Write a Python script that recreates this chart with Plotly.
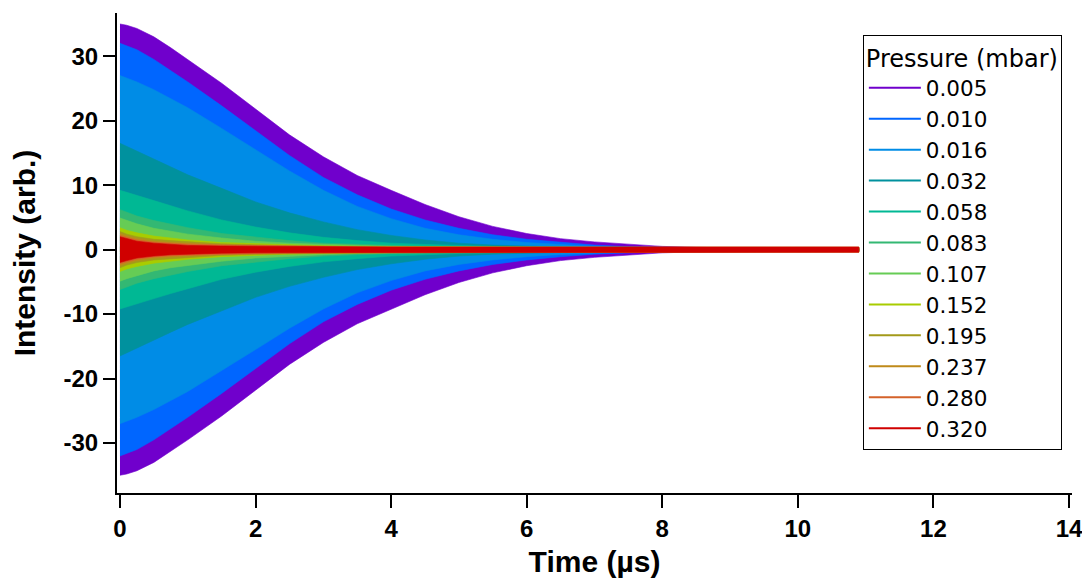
import plotly.graph_objects as go

time_us = [0, 0.1, 0.25, 0.5, 0.75, 1, 1.5, 2, 2.5, 3, 3.5, 4, 4.5, 5, 5.5,
           6, 6.5, 7, 7.5, 8, 8.5, 9, 9.5, 10, 10.9]

pressures = ["0.005", "0.010", "0.016", "0.032", "0.058", "0.083",
             "0.107", "0.152", "0.195", "0.237", "0.280", "0.320"]

colors = ["#7000CC", "#0066FF", "#008CE6", "#00919E", "#00B894", "#33B873",
          "#66CC55", "#A8CC00", "#A39A1A", "#BF8A1A", "#D4622A", "#D00000"]

# Envelope amplitude (arb.) of each trace
env_0005 = [35.0, 34.8, 34.3, 33.0, 31.3, 29.5, 25.8, 21.8, 17.8, 14.4, 11.5, 9.2, 7.0,
            5.1, 3.6, 2.5, 1.7, 1.2, 0.8, 0.5, 0.35, 0.25, 0.2, 0.15, 0.15]
env_0010 = [32.0, 31.6, 31.0, 29.5, 27.8, 26.0, 22.3, 18.5, 14.6, 11.2, 8.5, 6.3, 4.6,
            3.3, 2.3, 1.6, 1.1, 0.7, 0.45, 0.3, 0.25, 0.2, 0.15, 0.15, 0.15]
env_0016 = [27.0, 26.6, 26.0, 24.8, 23.4, 22.0, 18.8, 15.5, 12.2, 9.2, 6.7, 4.8, 3.3,
            2.3, 1.6, 1.1, 0.75, 0.5, 0.35, 0.25, 0.2, 0.15, 0.15, 0.15, 0.15]
env_0032 = [16.5, 16.0, 15.3, 14.0, 12.8, 11.6, 9.5, 7.4, 5.7, 4.3, 3.1, 2.2, 1.5,
            1.0, 0.7, 0.5, 0.4, 0.3, 0.25, 0.2, 0.2, 0.15, 0.15, 0.15, 0.15]
env_0058 = [9.2, 8.9, 8.4, 7.6, 6.8, 6.0, 4.6, 3.5, 2.6, 1.9, 1.4, 1.0, 0.8,
            0.6, 0.5, 0.4, 0.35, 0.3, 0.25, 0.2, 0.2, 0.2, 0.2, 0.2, 0.2]
env_0083 = [6.2, 5.8, 5.2, 4.5, 3.9, 3.4, 2.5, 1.9, 1.4, 1.0, 0.8, 0.6, 0.5,
            0.45, 0.4, 0.35, 0.3, 0.3, 0.25, 0.25, 0.2, 0.2, 0.2, 0.2, 0.2]
env_0107 = [4.9, 4.5, 4.0, 3.3, 2.8, 2.4, 1.8, 1.3, 1.0, 0.8, 0.6, 0.5, 0.45,
            0.4, 0.35, 0.35, 0.3, 0.3, 0.25, 0.25, 0.25, 0.25, 0.25, 0.25, 0.25]
env_0152 = [3.4, 3.0, 2.6, 2.1, 1.8, 1.5, 1.1, 0.9, 0.7, 0.6, 0.5, 0.45, 0.4,
            0.4, 0.35, 0.35, 0.35, 0.3, 0.3, 0.3, 0.3, 0.3, 0.3, 0.3, 0.3]
env_0195 = [2.8, 2.4, 2.0, 1.6, 1.4, 1.2, 0.9, 0.75, 0.6, 0.55, 0.5, 0.45, 0.4,
            0.4, 0.4, 0.35, 0.35, 0.35, 0.35, 0.35, 0.35, 0.35, 0.35, 0.35, 0.35]
env_0237 = [2.5, 2.1, 1.7, 1.3, 1.1, 0.95, 0.75, 0.65, 0.55, 0.5, 0.45, 0.4, 0.4,
            0.35, 0.35, 0.35, 0.35, 0.35, 0.35, 0.35, 0.35, 0.35, 0.35, 0.35, 0.35]
env_0280 = [2.2, 1.9, 1.5, 1.15, 0.95, 0.85, 0.7, 0.6, 0.5, 0.45, 0.4, 0.4, 0.4,
            0.4, 0.4, 0.4, 0.4, 0.4, 0.4, 0.4, 0.4, 0.4, 0.4, 0.4, 0.4]
env_0320 = [2.0, 1.7, 1.3, 1.0, 0.8, 0.65, 0.55, 0.5, 0.45, 0.4, 0.4, 0.4, 0.4,
            0.4, 0.4, 0.4, 0.4, 0.4, 0.4, 0.4, 0.4, 0.4, 0.4, 0.4, 0.4]

envelopes = [env_0005, env_0010, env_0016, env_0032, env_0058, env_0083,
             env_0107, env_0152, env_0195, env_0237, env_0280, env_0320]

x_ticks = [0, 2, 4, 6, 8, 10, 12, 14]
y_ticks = [-30, -20, -10, 0, 10, 20, 30]
y_tick_text = ["-30", "-20", "-10", "0", "10", "20", "30"]

FONT = "Liberation Sans"
LEG_FONT = "DejaVu Sans"

fig = go.Figure()

for p, c, env in zip(pressures, colors, envelopes):
    xs = list(time_us) + list(reversed(time_us))
    ys = list(env) + [-v for v in reversed(env)]
    fig.add_trace(go.Scatter(
        x=xs, y=ys, mode="lines", fill="toself", fillcolor=c,
        line=dict(color=c, width=0.6),
        showlegend=False, hoverinfo="skip"))

for p, c in zip(pressures, colors):
    fig.add_trace(go.Scatter(
        x=[None], y=[None], mode="lines", name=p,
        line=dict(color=c, width=2)))

# The page adds an 8 px body margin, so the figure is sized to fit inside it.
fig.update_layout(
    width=1074, height=570,
    margin=dict(l=109, r=10, t=5, b=85),
    plot_bgcolor="white", paper_bgcolor="white",
    font=dict(family=FONT, color="black"),
    showlegend=True,
    legend=dict(
        title=dict(text="Pressure (mbar)", font=dict(family=LEG_FONT, size=24)),
        font=dict(family=LEG_FONT, size=21.5),
        x=0.781, y=0.954, xanchor="left", yanchor="top",
        bordercolor="black", borderwidth=1, bgcolor="white",
        tracegroupgap=0, itemwidth=52,
        entrywidth=150, entrywidthmode="pixels"),
    xaxis=dict(
        range=[-0.044, 14.044], tickvals=x_ticks, automargin=False,
        ticklabeloverflow="allow",
        ticks="outside", ticklen=13, tickwidth=2, tickcolor="black",
        showline=True, linewidth=2, linecolor="black",
        showgrid=False, zeroline=False,
        tickfont=dict(family=FONT, size=24, weight="bold"),
        title=dict(text="Time (µs)", font=dict(family=FONT, size=30, weight="bold"),
                   standoff=21)),
    yaxis=dict(
        range=[-37.75, 36.7], tickvals=y_ticks, ticktext=y_tick_text,
        automargin=False,
        ticks="outside", ticklen=12, tickwidth=2, tickcolor="black",
        showline=True, linewidth=2, linecolor="black",
        showgrid=False, zeroline=False,
        tickfont=dict(family=FONT, size=24, weight="bold"),
        title=dict(text="Intensity (arb.)", font=dict(family=FONT, size=30, weight="bold"),
                   standoff=24)),
)

fig.write_html("out.html")
